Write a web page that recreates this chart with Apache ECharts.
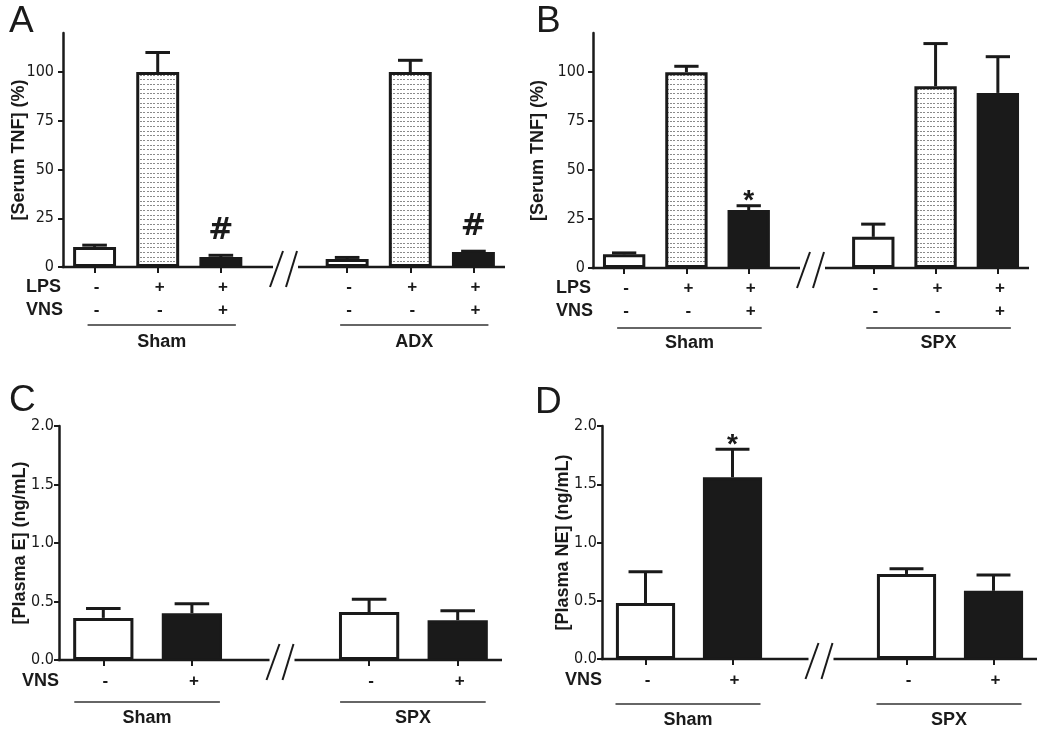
<!DOCTYPE html>
<html><head><meta charset="utf-8">
<script src="https://cdn.jsdelivr.net/npm/echarts@6/dist/echarts.min.js"></script>
<style>html,body{margin:0;padding:0;background:#fff}#c{width:1050px;height:736px}</style>
</head><body><div id="c"></div>
<script>
// ---------- Panel A : serum TNF, Sham vs ADX ----------
const catsA = ['Sham LPS-VNS-', 'Sham LPS+VNS-', 'Sham LPS+VNS+', '', 'ADX LPS-VNS-', 'ADX LPS+VNS-', 'ADX LPS+VNS+'];
const lpsA  = ['-', '+', '+', '', '-', '+', '+'];
const vnsA  = ['-', '-', '+', '', '-', '-', '+'];
const valA  = [10.3, 100, 5.1, null, 4.1, 100, 7.7];
const errA  = [0.9, 10, 0.9, null, 0.8, 6, 0.4];
const fillA = ['open', 'dots', 'solid', null, 'open', 'dots', 'solid'];
const sigA  = ['', '', '#', '', '', '', '#'];
const groupsA = [['Sham', 0, 2], ['ADX', 4, 6]];
const yTicksA = [0, 25, 50, 75, 100];

// ---------- Panel B : serum TNF, Sham vs SPX ----------
const catsB = ['Sham LPS-VNS-', 'Sham LPS+VNS-', 'Sham LPS+VNS+', '', 'SPX LPS-VNS-', 'SPX LPS+VNS-', 'SPX LPS+VNS+'];
const lpsB  = ['-', '+', '+', '', '-', '+', '+'];
const vnsB  = ['-', '-', '+', '', '-', '-', '+'];
const valB  = [7.0, 100, 29.6, null, 15.9, 92.8, 89.4];
const errB  = [0.7, 3, 2.2, null, 6.5, 21.8, 18.5];
const fillB = ['open', 'dots', 'solid', null, 'open', 'dots', 'solid'];
const sigB  = ['', '', '*', '', '', '', ''];
const groupsB = [['Sham', 0, 2], ['SPX', 4, 6]];
const yTicksB = [0, 25, 50, 75, 100];

// ---------- Panel C : plasma E ----------
const catsC = ['Sham VNS-', 'Sham VNS+', '', 'SPX VNS-', 'SPX VNS+'];
const vnsC  = ['-', '+', '', '-', '+'];
const valC  = [0.36, 0.40, null, 0.41, 0.34];
const errC  = [0.08, 0.08, null, 0.11, 0.08];
const fillC = ['open', 'solid', null, 'open', 'solid'];
const sigC  = ['', '', '', '', ''];
const groupsC = [['Sham', 0, 1], ['SPX', 3, 4]];

// ---------- Panel D : plasma NE ----------
const catsD = ['Sham VNS-', 'Sham VNS+', '', 'SPX VNS-', 'SPX VNS+'];
const vnsD  = ['-', '+', '', '-', '+'];
const valD  = [0.48, 1.56, null, 0.73, 0.585];
const errD  = [0.27, 0.24, null, 0.045, 0.135];
const fillD = ['open', 'solid', null, 'open', 'solid'];
const sigD  = ['', '*', '', '', ''];
const groupsD = [['Sham', 0, 1], ['SPX', 3, 4]];

const panelLetters = ['A', 'B', 'C', 'D'];

// ---------- styling ----------
const INK = '#1a1a1a';
const NARROW = "'Liberation Sans Narrow','Arial Narrow','DejaVu Sans Condensed',sans-serif";
const SANS = "'Liberation Sans',Arial,Helvetica,sans-serif";

function dotPattern() {
  const c = document.createElement('canvas');
  c.width = 10; c.height = 14;
  const g = c.getContext('2d');
  g.fillStyle = '#ffffff'; g.fillRect(0, 0, 10, 14);
  g.fillStyle = '#8a8a8a';
  [0, 5, 9].forEach(y => [0, 3, 7].forEach(x => g.fillRect(x, y, 2, 1)));
  return { image: c, repeat: 'repeat' };
}
const DOTS = dotPattern();
function fillStyle(f) {
  const base = { borderColor: INK, borderWidth: 3 };
  if (f === 'open') return Object.assign({ color: '#ffffff' }, base);
  if (f === 'dots') return Object.assign({ color: DOTS }, base);
  return Object.assign({ color: INK }, base);
}

const panels = [
  { cats: catsA, rowNames: ['LPS', 'VNS'], rows: [lpsA, vnsA], val: valA, err: errA, fill: fillA, sig: sigA, groups: groupsA,
    yMax: 120, yInt: 25, yTicks: yTicksA, dec: 0, yName: '[Serum TNF] (%)',
    grid: { left: 63, top: 33, width: 442, height: 234 }, nameGap: 35, lblMargin: 9, gl: 7, gr: 15, lineY: 58, nameY: 75, rowY: [20, 43],
    letter: { left: 9, top: 3 } },
  { cats: catsB, rowNames: ['LPS', 'VNS'], rows: [lpsB, vnsB], val: valB, err: errB, fill: fillB, sig: sigB, groups: groupsB,
    yMax: 120, yInt: 25, yTicks: yTicksB, dec: 0, yName: '[Serum TNF] (%)',
    grid: { left: 593, top: 33, width: 436, height: 235 }, nameGap: 46, lblMargin: 8, gl: 7, gr: 13, lineY: 60, nameY: 75, rowY: [20, 43],
    letter: { left: 536, top: 3 } },
  { cats: catsC, rowNames: ['VNS'], rows: [vnsC], val: valC, err: errC, fill: fillC, sig: sigC, groups: groupsC,
    yMax: 2, yInt: 0.5, yTicks: null, dec: 1, yName: '[Plasma E] (ng/mL)',
    grid: { left: 59, top: 426, width: 443, height: 234 }, nameGap: 30, lblMargin: 5, gl: 29, gr: 28, lineY: 42, nameY: 58, rowY: [21],
    letter: { left: 9, top: 382 } },
  { cats: catsD, rowNames: ['VNS'], rows: [vnsD], val: valD, err: errD, fill: fillD, sig: sigD, groups: groupsD,
    yMax: 2, yInt: 0.5, yTicks: null, dec: 1, yName: '[Plasma NE] (ng/mL)',
    grid: { left: 602, top: 426, width: 435, height: 233 }, nameGap: 30, lblMargin: 5, gl: 30, gr: 28, lineY: 45, nameY: 61, rowY: [21],
    letter: { left: 535, top: 384 } }
];

const sigStyle = {
  '#': { size: 30, dy: -24, family: "'DejaVu Sans'," + SANS },
  '*': { size: 28, dy: -4, family: SANS }
};

const option = {
  animation: false,
  backgroundColor: '#ffffff',
  title: [], grid: [], xAxis: [], yAxis: [], series: []
};

panels.forEach((p, k) => {
  const gapIdx = p.fill.indexOf(null);
  option.title.push({ text: panelLetters[k], left: p.letter.left, top: p.letter.top, padding: 0,
    textStyle: { fontFamily: SANS, fontSize: 37, fontWeight: 'normal', color: INK } });
  option.grid.push(Object.assign({ containLabel: false }, p.grid));
  option.xAxis.push({
    type: 'category', gridIndex: k, data: p.cats, boundaryGap: true,
    axisLine: { show: false },
    axisTick: { show: true, alignWithLabel: true, length: 6, interval: (i) => i !== gapIdx,
      lineStyle: { color: INK, width: 2 } },
    axisLabel: {
      interval: 0, margin: p.rowY[0] - 11.5,
      formatter: (v, i) => i === gapIdx ? '' : p.rows.map(r => '{s|' + r[i] + '}').join('\n'),
      rich: { s: { fontFamily: SANS, fontWeight: 'bold', fontSize: 17, lineHeight: 23, color: INK, padding: [0, 0, 0, 4] } }
    },
    splitLine: { show: false }
  });
  const yAx = {
    type: 'value', gridIndex: k, min: 0, max: p.yMax, interval: p.yInt,
    axisLine: { show: true, lineStyle: { color: INK, width: 2.5 } },
    axisTick: { show: true, inside: false, length: 5, lineStyle: { color: INK, width: 2 } },
    axisLabel: { margin: p.lblMargin, fontFamily: NARROW, fontSize: 16, color: INK,
      formatter: (v) => v.toFixed(p.dec) },
    splitLine: { show: false },
    name: p.yName, nameLocation: 'middle', nameGap: p.nameGap, nameMoveOverlap: false,
    nameTextStyle: { fontFamily: SANS, fontWeight: 'bold', fontSize: 18, color: INK }
  };
  if (p.yTicks) { yAx.axisTick.customValues = p.yTicks; yAx.axisLabel.customValues = p.yTicks; }
  option.yAxis.push(yAx);

  option.series.push({
    type: 'bar', xAxisIndex: k, yAxisIndex: k, barWidth: '68%', z: 2, silent: true,
    data: p.val.map((v, i) => v == null ? '-' : { value: v, itemStyle: fillStyle(p.fill[i]) })
  });

  const ebData = [];
  p.val.forEach((v, i) => { if (v != null) ebData.push([i, v, p.err[i], i]); });
  option.series.push({
    type: 'custom', xAxisIndex: k, yAxisIndex: k, z: 3, silent: true, data: ebData,
    renderItem: (params, api) => {
      const i = api.value(0), v = api.value(1), e = api.value(2);
      const a = api.coord([i, v]);
      const b = api.coord([i, v + e]);
      const hw = api.size([1, 0])[0] * 0.195;
      const ch = [
        { type: 'line', shape: { x1: a[0], y1: a[1], x2: b[0], y2: b[1] }, style: { stroke: INK, lineWidth: 3 } },
        { type: 'line', shape: { x1: b[0] - hw, y1: b[1], x2: b[0] + hw, y2: b[1] }, style: { stroke: INK, lineWidth: 3 } }
      ];
      const s = p.sig[i];
      if (s) {
        const st = sigStyle[s];
        ch.push({ type: 'text', x: b[0], y: b[1] + st.dy,
          style: { text: s, font: 'bold ' + st.size + 'px ' + st.family, fill: INK, align: 'center', verticalAlign: 'middle' } });
      }
      return { type: 'group', children: ch };
    }
  });

  option.series.push({
    type: 'custom', xAxisIndex: k, yAxisIndex: k, z: 4, silent: true, data: [[gapIdx, 0]],
    renderItem: (params, api) => {
      const cs = params.coordSys;
      const y0 = cs.y + cs.height;
      const cb = api.coord([api.value(0), 0])[0];
      const ch = [];
      const L = (x1, y1, x2, y2, w, c) => ch.push({ type: 'line', shape: { x1, y1, x2, y2 }, style: { stroke: c || INK, lineWidth: w } });
      L(cs.x - 1.2, y0, cb - 11, y0, 2.5);
      L(cb + 14, y0, cs.x + cs.width, y0, 2.5);
      L(cb - 14, y0 + 20, cb - 1, y0 - 16, 2);
      L(cb + 2, y0 + 20, cb + 13, y0 - 16, 2);
      p.rowNames.forEach((r, j) => ch.push({ type: 'text', x: cs.x - 37, y: y0 + p.rowY[j],
        style: { text: r, font: 'bold 18px ' + SANS, fill: INK, align: 'left', verticalAlign: 'middle' } }));
      p.groups.forEach(g => {
        const xa = api.coord([g[1], 0])[0] - p.gl;
        const xb = api.coord([g[2], 0])[0] + p.gr;
        L(xa, y0 + p.lineY, xb, y0 + p.lineY, 1.3, '#333');
        ch.push({ type: 'text', x: (xa + xb) / 2, y: y0 + p.nameY,
          style: { text: g[0], font: 'bold 18px ' + SANS, fill: INK, align: 'center', verticalAlign: 'middle' } });
      });
      return { type: 'group', children: ch };
    }
  });
});

const chart = echarts.init(document.getElementById('c'), null, { renderer: 'canvas' });
chart.setOption(option);
</script>
</body></html>
